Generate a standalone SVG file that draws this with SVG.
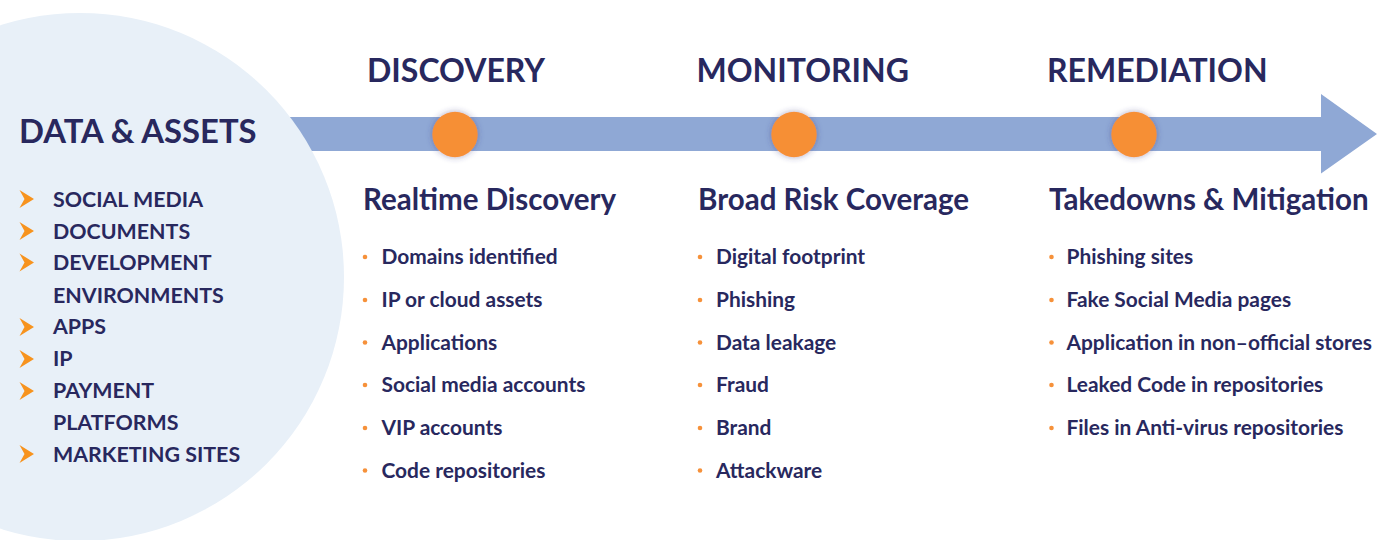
<svg xmlns="http://www.w3.org/2000/svg" width="1388" height="540" viewBox="0 0 1388 540">
<defs>
<style>
text{font-family:Lato,"Liberation Sans",sans-serif;font-weight:700;fill:#28285e}
.stage{font-size:32px}
.sub{font-size:29.5px}
.item{font-size:20.9px}
.asset{font-size:21.4px}
.title{font-size:32.8px}
.dot{fill:#f6913a}
.chev{fill:#f7931e}
.node{fill:#f68f36;filter:url(#sh)}
</style>
<filter id="sh" x="-50%" y="-50%" width="200%" height="200%">
<feDropShadow dx="0" dy="0" stdDeviation="3" flood-color="#3a3a7a" flood-opacity="0.45"/>
</filter>
<path id="chv" d="M0 0 L14.5 9 L0 18 L5 9 Z"/>
</defs>
<g id="connectors">
<path d="M250 117 H1321 V94 L1377 134 L1321 173.5 V151 H250 Z" fill="#8fa8d5"/>
</g>
<g id="assets">
<circle cx="80" cy="277" r="264" fill="#e8f0f8"/>
<text class="title" x="19" y="142.5">DATA &amp; ASSETS</text>
<use href="#chv" class="chev" x="19.5" y="190"/>
<text class="asset" x="53" y="206.5">SOCIAL MEDIA</text>
<use href="#chv" class="chev" x="19.5" y="222"/>
<text class="asset" x="53" y="238.5">DOCUMENTS</text>
<use href="#chv" class="chev" x="19.5" y="253.5"/>
<text class="asset" x="53" y="270">DEVELOPMENT</text>
<text class="asset" x="53" y="302.5">ENVIRONMENTS</text>
<use href="#chv" class="chev" x="19.5" y="318"/>
<text class="asset" x="53" y="334.3">APPS</text>
<use href="#chv" class="chev" x="19.5" y="350"/>
<text class="asset" x="53" y="366">IP</text>
<use href="#chv" class="chev" x="19.5" y="382"/>
<text class="asset" x="53" y="398.3">PAYMENT</text>
<text class="asset" x="53" y="429.5">PLATFORMS</text>
<use href="#chv" class="chev" x="19.5" y="445"/>
<text class="asset" x="53" y="461.5">MARKETING SITES</text>
</g>
<g id="discovery">
<text class="stage" x="367" y="82.3">DISCOVERY</text>
<circle class="node" cx="455" cy="134.5" r="22.7"/>
<text class="sub" x="363" y="210">Realtime Discovery</text>
<g class="dot"><circle cx="365" cy="257" r="2.3"/><circle cx="365" cy="300" r="2.3"/><circle cx="365" cy="342.5" r="2.3"/><circle cx="365" cy="385" r="2.3"/><circle cx="365" cy="428" r="2.3"/><circle cx="365" cy="470.5" r="2.3"/></g>
<text class="item" x="381.5" y="264">Domains identified</text>
<text class="item" x="381.5" y="307">IP or cloud assets</text>
<text class="item" x="381.5" y="349.5">Applications</text>
<text class="item" x="381.5" y="392">Social media accounts</text>
<text class="item" x="381.5" y="435">VIP accounts</text>
<text class="item" x="381.5" y="477.5">Code repositories</text>
</g>
<g id="monitoring">
<text class="stage" x="696.5" y="82.3">MONITORING</text>
<circle class="node" cx="794" cy="134.5" r="22.7"/>
<text class="sub" x="698" y="210">Broad Risk Coverage</text>
<g class="dot"><circle cx="700" cy="257" r="2.3"/><circle cx="700" cy="300" r="2.3"/><circle cx="700" cy="342.5" r="2.3"/><circle cx="700" cy="385" r="2.3"/><circle cx="700" cy="428" r="2.3"/><circle cx="700" cy="470.5" r="2.3"/></g>
<text class="item" x="716" y="264">Digital footprint</text>
<text class="item" x="716" y="307">Phishing</text>
<text class="item" x="716" y="349.5">Data leakage</text>
<text class="item" x="716" y="392">Fraud</text>
<text class="item" x="716" y="435">Brand</text>
<text class="item" x="716" y="477.5">Attackware</text>
</g>
<g id="remediation">
<text class="stage" x="1047" y="82.3">REMEDIATION</text>
<circle class="node" cx="1134" cy="134.5" r="22.7"/>
<text class="sub" x="1049" y="210">Takedowns &amp; Mitigation</text>
<g class="dot"><circle cx="1051.5" cy="257" r="2.3"/><circle cx="1051.5" cy="300" r="2.3"/><circle cx="1051.5" cy="342.5" r="2.3"/><circle cx="1051.5" cy="385" r="2.3"/><circle cx="1051.5" cy="428" r="2.3"/></g>
<text class="item" x="1066.5" y="264">Phishing sites</text>
<text class="item" x="1066.5" y="307">Fake Social Media pages</text>
<text class="item" x="1066.5" y="349.5">Application in non–official stores</text>
<text class="item" x="1066.5" y="392">Leaked Code in repositories</text>
<text class="item" x="1066.5" y="435">Files in Anti-virus repositories</text>
</g>
</svg>
